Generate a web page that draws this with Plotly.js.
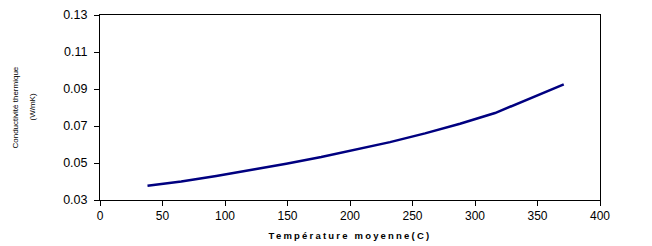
<!DOCTYPE html>
<html>
<head>
<meta charset="utf-8">
<script src="https://cdn.plot.ly/plotly-3.0.1.min.js"></script>
<style>
html,body{margin:0;padding:0;background:#fff;}
#chart{width:652px;height:246px;}
.xtitle{letter-spacing:2.2px;}
</style>
</head>
<body>
<div id="chart"></div>
<script>
// Data
const temperature = [38, 65, 93, 121, 149, 177, 204, 232, 260, 288, 316, 343, 371];
const conductivity = [0.0377, 0.0400, 0.0430, 0.0462, 0.0496, 0.0532, 0.0570, 0.0613, 0.0660, 0.0712, 0.0770, 0.0845, 0.0925];
const yTickVals = [0.03, 0.05, 0.07, 0.09, 0.11, 0.13];
const xTickVals = [0, 50, 100, 150, 200, 250, 300, 350, 400];

const trace = {
  x: temperature,
  y: conductivity,
  type: 'scatter',
  mode: 'lines',
  line: {color: '#000080', width: 2.5, shape: 'linear'},
  hoverinfo: 'skip'
};

const font = 'Liberation Sans, Arial, sans-serif';

const layout = {
  width: 652,
  height: 246,
  margin: {l: 100, r: 52, t: 15, b: 46},
  paper_bgcolor: '#ffffff',
  plot_bgcolor: '#ffffff',
  showlegend: false,
  font: {family: font, color: '#000000', size: 12},
  xaxis: {
    range: [0, 400],
    tickvals: xTickVals,
    ticks: 'outside',
    ticklen: 5,
    tickcolor: '#000',
    showline: true,
    linecolor: '#000',
    linewidth: 1,
    mirror: true,
    showgrid: false,
    zeroline: false,
    tickfont: {family: font, size: 12, color: '#000'},
    title: {
      text: 'Température moyenne(C)',
      font: {family: font, size: 9.5, color: '#000', weight: 'bold'},
      standoff: 9
    }
  },
  yaxis: {
    range: [0.03, 0.13],
    tickvals: yTickVals,
    tickformat: '.2f',
    ticks: 'outside',
    ticklen: 5,
    tickcolor: '#000',
    showline: true,
    linecolor: '#000',
    linewidth: 1,
    mirror: true,
    showgrid: false,
    zeroline: false,
    ticklabelstandoff: 4,
    tickfont: {family: font, size: 12.5, color: '#000'}
  },
  annotations: [
    {
      text: 'Conductivité thermique',
      xref: 'paper', yref: 'paper',
      x: -0.17, y: 0.5,
      xanchor: 'center', yanchor: 'middle',
      textangle: -90,
      showarrow: false,
      font: {family: font, size: 8, color: '#000'}
    },
    {
      text: '(W/mK)',
      xref: 'paper', yref: 'paper',
      x: -0.136, y: 0.5,
      xanchor: 'center', yanchor: 'middle',
      textangle: -90,
      showarrow: false,
      font: {family: font, size: 8, color: '#000'}
    }
  ]
};

Plotly.newPlot('chart', [trace], layout, {displayModeBar: false, staticPlot: true});
</script>
</body>
</html>
